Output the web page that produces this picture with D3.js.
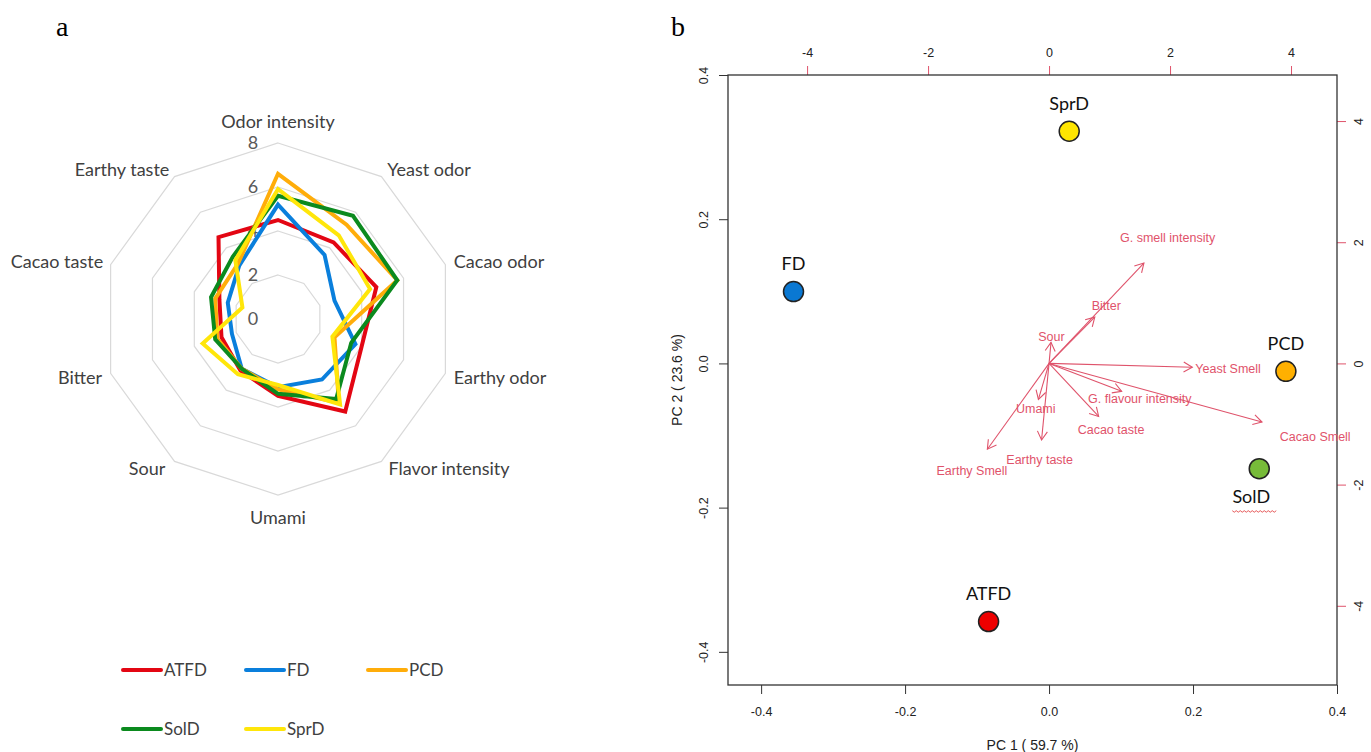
<!DOCTYPE html>
<html>
<head>
<meta charset="utf-8">
<script src="https://cdn.jsdelivr.net/npm/d3@7"></script>
<style>
  body { margin: 0; background: #fff; }
  svg { display: block; }
  .radarlabel { font-family: Lato, "Open Sans", sans-serif; font-size: 18px; fill: #404040; }
  .radartick { font-family: Lato, "Open Sans", sans-serif; font-size: 18px; fill: #595959; }
  .legendtext { font-family: Lato, "Open Sans", sans-serif; font-size: 17px; fill: #404040; }
  .paneltag { font-family: "Liberation Serif", "DejaVu Serif", serif; font-size: 28px; fill: #000; }
  .biaxis text { font-family: "Liberation Sans", Arial, sans-serif; font-size: 12.5px; fill: #222; }
  .ptlabel { font-family: Lato, "Open Sans", sans-serif; font-size: 18px; fill: #111; }
  .varlabel { font-family: "Liberation Sans", Arial, sans-serif; font-size: 12.5px; fill: #DF536B; }
  .axtitle { font-family: "Liberation Sans", Arial, sans-serif; font-size: 14px; fill: #222; }
</style>
</head>
<body>
<div id="chart"></div>
<script>
(function() {

const w = 1371;
const h = 752;

// ---- panel a: sensory radar ----
const attributes = ["Odor intensity", "Yeast odor", "Cacao odor", "Earthy odor", "Flavor intensity",
                    "Umami", "Sour", "Bitter", "Cacao taste", "Earthy taste"];
const radarTicks = [0, 2, 4, 6, 8];
const seriesNames = ["ATFD", "FD", "PCD", "SolD", "SprD"];
const atfdScores = [4.5, 4.3, 4.7, 4.0, 5.2, 3.5, 2.9, 2.7, 2.8, 4.6];
const fdScores   = [5.2, 3.6, 2.7, 3.7, 3.4, 3.1, 2.8, 2.2, 2.4, 3.0];
const pcdScores  = [6.6, 5.3, 5.7, 2.7, 4.7, 3.2, 2.8, 2.9, 3.0, 3.1];
const soldScores = [5.6, 5.8, 5.7, 3.5, 4.5, 3.4, 2.8, 3.0, 3.2, 3.5];
const sprdScores = [5.9, 4.7, 4.4, 2.6, 4.8, 3.0, 3.1, 3.6, 1.7, 3.3];
const radarColours = ["#e30613", "#0a7fdc", "#ffad0a", "#0b8a1e", "#ffe60a"];

// ---- panel b: PCA biplot ----
const sampleNames = ["SprD", "FD", "PCD", "SolD", "ATFD"];
const samplePC1 = [0.028, -0.355, 0.329, 0.292, -0.084];
const samplePC2 = [0.322, 0.0996, -0.011, -0.146, -0.358];
const sampleColours = ["#ffe600", "#0a78d2", "#ffb000", "#77bb39", "#ee0000"];
const variableNames = ["G. smell intensity", "Bitter", "Sour", "Yeast Smell", "G. flavour intensity",
                       "Cacao Smell", "Cacao taste", "Umami", "Earthy taste", "Earthy Smell"];
const loadPC1 = [1.96, 0.945, 0.04, 2.96, 1.50, 4.40, 1.025, -0.22, -0.155, -1.275];
const loadPC2 = [2.07, 0.955, 0.435, -0.08, -0.575, -1.21, -1.095, -0.742, -1.58, -1.77];
const pcTicks = [-0.4, -0.2, 0.0, 0.2, 0.4];
const loadTicks = [-4, -2, 0, 2, 4];

const svg = d3.select("#chart")
    .append("svg")
    .attr("width", w)
    .attr("height", h);

svg.append("text").attr("class", "paneltag").attr("x", 56).attr("y", 36).text("a");
svg.append("text").attr("class", "paneltag").attr("x", 671).attr("y", 36).text("b");

// radar
const cx = 278, cy = 319;
const rScale = d3.scaleLinear().domain([0, 8]).range([0, 176]);
const angle = d3.scaleLinear().domain([0, attributes.length]).range([0, 2 * Math.PI]);

const radar = svg.append("g").attr("transform", `translate(${cx},${cy})`);

const ringLine = d3.lineRadial()
    .angle(function(d, i) { return angle(i); })
    .radius(function(d) { return rScale(d); })
    .curve(d3.curveLinearClosed);

radarTicks.filter(function(t) { return t > 0; }).forEach(function(t) {
    radar.append("path")
        .attr("d", ringLine(attributes.map(function() { return t; })))
        .attr("fill", "none")
        .attr("stroke", "#d9d9d9")
        .attr("stroke-width", 1.2);
});

const labelPos = [[0, -197], [151, -149], [221, -57], [222, 59], [171, 150],
                  [0, 199], [-131, 150], [-198, 59], [-221, -57], [-156, -149]];
attributes.forEach(function(a, i) {
    radar.append("text")
        .attr("class", "radarlabel")
        .attr("x", labelPos[i][0])
        .attr("y", labelPos[i][1])
        .attr("dy", "0.35em")
        .attr("text-anchor", "middle")
        .text(a);
});

radarTicks.forEach(function(t) {
    radar.append("text")
        .attr("class", "radartick")
        .attr("x", -25)
        .attr("y", -rScale(t))
        .attr("dy", "0.35em")
        .attr("text-anchor", "middle")
        .text(t);
});

const allScores = [atfdScores, fdScores, pcdScores, soldScores, sprdScores];
allScores.forEach(function(vals, k) {
    radar.append("path")
        .attr("d", ringLine(vals))
        .attr("fill", "none")
        .attr("stroke", radarColours[k])
        .attr("stroke-width", 4)
        .attr("stroke-linejoin", "miter");
});

// legend
const legendX = [123, 246, 368];
const legendY = [670, 729];
seriesNames.forEach(function(n, k) {
    const lx = legendX[k % 3];
    const ly = legendY[Math.floor(k / 3)];
    svg.append("line")
        .attr("x1", lx).attr("x2", lx + 38)
        .attr("y1", ly).attr("y2", ly)
        .attr("stroke", radarColours[k])
        .attr("stroke-width", 4)
        .attr("stroke-linecap", "round");
    svg.append("text")
        .attr("class", "legendtext")
        .attr("x", lx + 41)
        .attr("y", ly)
        .attr("dy", "0.36em")
        .text(n);
});

// biplot scales
const box = { left: 728, right: 1337, top: 75, bottom: 685 };
const lim = [-0.446, 0.4];
const ratio = 11.9;
const x = d3.scaleLinear().domain(lim).range([box.left, box.right]);
const y = d3.scaleLinear().domain(lim).range([box.bottom, box.top]);
const xs = d3.scaleLinear().domain(lim.map(function(v) { return v * ratio; })).range([box.left, box.right]);
const ys = d3.scaleLinear().domain(lim.map(function(v) { return v * ratio; })).range([box.bottom, box.top]);

const fmt1 = function(d) { return d.toFixed(1); };
const fmt0 = function(d) { return String(d); };

const gb = svg.append("g").attr("class", "biaxis")
    .attr("transform", `translate(0,${box.bottom})`)
    .call(d3.axisBottom(x).tickValues(pcTicks).tickFormat(fmt1).tickSize(9).tickSizeOuter(0));
gb.select(".domain").remove();
gb.selectAll("line").attr("stroke", "#333");
gb.selectAll("text").attr("y", 22).attr("fill", "#222");

const gl = svg.append("g").attr("class", "biaxis")
    .attr("transform", `translate(${box.left},0)`)
    .call(d3.axisLeft(y).tickValues(pcTicks).tickFormat(fmt1).tickSize(9).tickSizeOuter(0));
gl.select(".domain").remove();
gl.selectAll("line").attr("stroke", "#333");
gl.selectAll("text")
    .attr("transform", "rotate(-90)")
    .attr("x", 0).attr("y", -20).attr("dy", 0)
    .attr("text-anchor", "middle");

const gt = svg.append("g").attr("class", "biaxis")
    .attr("transform", `translate(0,${box.top})`)
    .call(d3.axisTop(xs).tickValues(loadTicks).tickFormat(fmt0).tickSize(9).tickSizeOuter(0));
gt.select(".domain").remove();
gt.selectAll("line").attr("stroke", "#DF536B");
gt.selectAll("text").attr("y", -18);

const gr = svg.append("g").attr("class", "biaxis")
    .attr("transform", `translate(${box.right},0)`)
    .call(d3.axisRight(ys).tickValues(loadTicks).tickFormat(fmt0).tickSize(9).tickSizeOuter(0));
gr.select(".domain").remove();
gr.selectAll("line").attr("stroke", "#DF536B");
gr.selectAll("text")
    .attr("transform", "rotate(-90)")
    .attr("x", 0).attr("y", 26).attr("dy", 0)
    .attr("text-anchor", "middle");

svg.append("rect")
    .attr("x", box.left).attr("y", box.top)
    .attr("width", box.right - box.left)
    .attr("height", box.bottom - box.top)
    .attr("fill", "none")
    .attr("stroke", "#333")
    .attr("stroke-width", 1.3);

svg.append("text")
    .attr("class", "axtitle")
    .attr("x", (box.left + box.right) / 2)
    .attr("y", 745)
    .attr("dy", "0.35em")
    .attr("text-anchor", "middle")
    .text("PC 1 ( 59.7 %)");

svg.append("text")
    .attr("class", "axtitle")
    .attr("transform", `translate(677,${(box.top + box.bottom) / 2}) rotate(-90)`)
    .attr("dy", "0.35em")
    .attr("text-anchor", "middle")
    .text("PC 2 ( 23.6 %)");

// arrows
const arrows = svg.append("g");
variableNames.forEach(function(n, i) {
    const x0 = xs(0), y0 = ys(0);
    const x1 = xs(loadPC1[i] * 0.8), y1 = ys(loadPC2[i] * 0.8);
    const a = Math.atan2(y1 - y0, x1 - x0);
    const hl = 10, ha = Math.PI / 6;
    arrows.append("line")
        .attr("x1", x0).attr("y1", y0)
        .attr("x2", x1).attr("y2", y1)
        .attr("stroke", "#DF536B")
        .attr("stroke-width", 1.1);
    arrows.append("path")
        .attr("d", `M${x1 - hl * Math.cos(a - ha)},${y1 - hl * Math.sin(a - ha)}L${x1},${y1}L${x1 - hl * Math.cos(a + ha)},${y1 - hl * Math.sin(a + ha)}`)
        .attr("fill", "none")
        .attr("stroke", "#DF536B")
        .attr("stroke-width", 1.1);
    arrows.append("text")
        .attr("class", "varlabel")
        .attr("x", xs(loadPC1[i]))
        .attr("y", ys(loadPC2[i]))
        .attr("dy", "0.35em")
        .attr("text-anchor", "middle")
        .text(n);
});

// sample points
sampleNames.forEach(function(n, i) {
    const px = x(samplePC1[i]), py = y(samplePC2[i]);
    svg.append("circle")
        .attr("cx", px).attr("cy", py)
        .attr("r", 10)
        .attr("fill", sampleColours[i])
        .attr("stroke", "#222")
        .attr("stroke-width", 1.5);
    const below = n === "SolD";
    svg.append("text")
        .attr("class", "ptlabel")
        .attr("x", below ? px - 8 : px)
        .attr("y", below ? py + 28 : py - 28)
        .attr("dy", "0.35em")
        .attr("text-anchor", "middle")
        .text(n);
    if (below) {
        // spell-check squiggle under the label
        const sq = d3.path();
        const sx = px - 27, sy = py + 42;
        sq.moveTo(sx, sy);
        for (let k = 1; k <= 22; k++) sq.lineTo(sx + k * 2, sy + (k % 2 ? 1.5 : 0));
        svg.append("path").attr("d", sq.toString()).attr("fill", "none")
            .attr("stroke", "#e03030").attr("stroke-width", 0.8);
    }
});

})();
</script>
</body>
</html>
